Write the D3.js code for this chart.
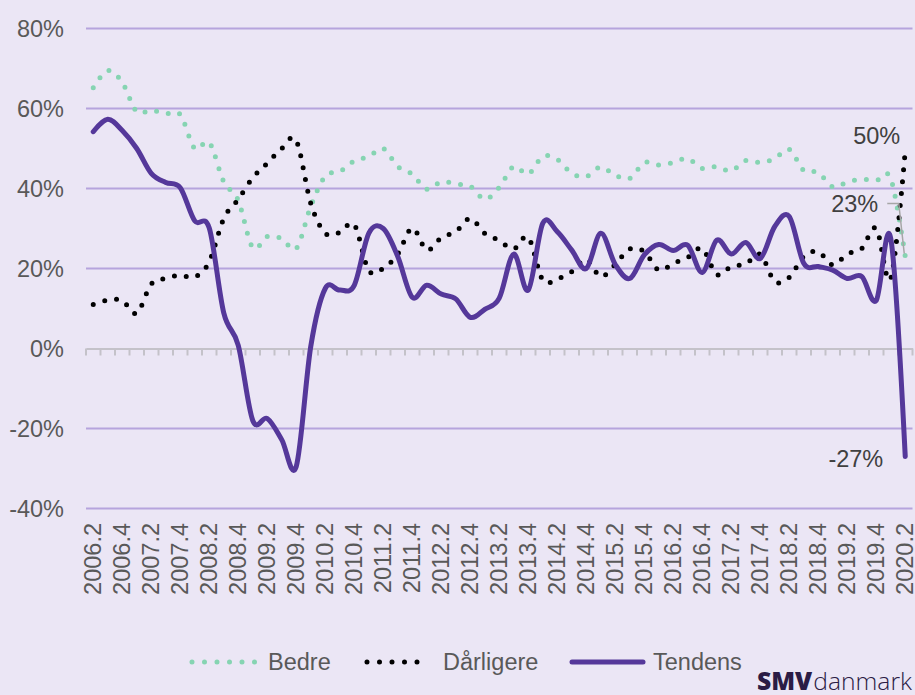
<!DOCTYPE html>
<html>
<head>
<meta charset="utf-8">
<script src="https://cdn.jsdelivr.net/npm/d3@7"></script>
<style>
  body { margin: 0; background: #ebe6f5; }
  svg { display: block; }
  text { font-family: "Liberation Sans", Arial, sans-serif; }
</style>
</head>
<body>
<div id="chart"></div>
<script>
const quarters = [
  "2006.2", "2006.3", "2006.4",
  "2007.1", "2007.2", "2007.3", "2007.4",
  "2008.1", "2008.2", "2008.3", "2008.4",
  "2009.1", "2009.2", "2009.3", "2009.4",
  "2010.1", "2010.2", "2010.3", "2010.4",
  "2011.1", "2011.2", "2011.3", "2011.4",
  "2012.1", "2012.2", "2012.3", "2012.4",
  "2013.1", "2013.2", "2013.3", "2013.4",
  "2014.1", "2014.2", "2014.3", "2014.4",
  "2015.1", "2015.2", "2015.3", "2015.4",
  "2016.1", "2016.2", "2016.3", "2016.4",
  "2017.1", "2017.2", "2017.3", "2017.4",
  "2018.1", "2018.2", "2018.3", "2018.4",
  "2019.1", "2019.2", "2019.3", "2019.4",
  "2020.1", "2020.2"
];

// andel af virksomheder (%)
const bedre = [
  65.2, 69.5, 66.5,
  59.2, 59.6, 58.7, 58.5,
  50.0, 51.5, 41.7, 37.0,
  25.2, 28.0, 27.5, 25.0,
  35.5, 43.1, 44.2, 46.9,
  48.0, 50.0, 45.5, 43.6,
  39.8, 41.7, 41.1, 40.6,
  37.3, 40.3, 45.5, 43.6,
  48.0, 47.3, 43.8, 43.0,
  45.4, 43.3, 42.5, 46.5,
  45.9, 46.5, 47.5, 45.0,
  45.5, 44.4, 47.0, 46.5,
  47.5, 49.8, 44.5, 44.0,
  40.4, 41.6, 42.3, 42.0,
  42.5, 23.0
];

const daarligere = [
  11.0, 12.1, 12.0,
  8.8, 16.1, 17.5, 18.3,
  17.9, 21.7, 32.5, 37.3,
  42.7, 46.3, 50.0, 52.0,
  36.3, 28.8, 29.0, 31.0,
  19.5, 20.0, 23.6, 30.1,
  24.6, 27.7, 29.2, 32.5,
  28.8, 27.0, 24.9, 27.8,
  17.1, 17.4, 19.2, 22.3,
  18.0, 21.0, 24.9, 24.2,
  19.6, 21.3, 22.8, 25.0,
  18.5, 20.5, 21.1, 23.5,
  16.8, 17.8, 23.0, 24.2,
  20.9, 23.6, 25.0, 30.0,
  17.5, 49.5
];

const tendens = [
  54.2, 57.3, 54.5,
  50.0, 43.8, 41.5, 40.2,
  31.9, 30.1, 8.9, 0.8,
  -18.0, -17.5, -22.8, -29.5,
  0.5, 15.0, 14.6, 15.8,
  28.8, 30.0, 23.0, 12.8,
  15.8, 13.6, 12.4, 7.8,
  9.8, 12.6, 23.6, 14.6,
  31.3, 29.2, 24.6, 20.0,
  28.8, 21.0, 17.5, 23.4,
  26.0, 24.5, 25.8, 19.0,
  27.1, 23.6, 26.5, 22.5,
  30.5, 33.0, 21.3, 20.5,
  19.6, 17.5, 18.0, 12.0,
  27.5, -27.0
];

const yTicks = [-40, -20, 0, 20, 40, 60, 80];

const series = [
  { name: "Bedre", values: bedre, color: "#86d4b2", dotted: true },
  { name: "Dårligere", values: daarligere, color: "#000000", dotted: true },
  { name: "Tendens", values: tendens, color: "#55389a", dotted: false }
];

const margin = { top: 28.5, right: 2.5, bottom: 186.5, left: 86 };
const width = 915 - margin.left - margin.right;
const height = 695 - margin.top - margin.bottom;

const x = d3.scaleBand().domain(quarters).range([0, width]).padding(0);
const y = d3.scaleLinear().domain([-40, 80]).range([height, 0]);
const xc = q => x(q) + x.bandwidth() / 2;

const root = d3.select("#chart").append("svg")
  .attr("width", 915)
  .attr("height", 695);

root.append("rect")
  .attr("width", 915)
  .attr("height", 695)
  .attr("fill", "#ebe6f5");

const svg = root.append("g")
  .attr("transform", "translate(" + margin.left + "," + margin.top + ")");

// gridlines (not at 0, the axis sits there)
svg.selectAll(".grid")
  .data(yTicks.filter(t => t !== 0))
  .enter().append("line")
  .attr("class", "grid")
  .attr("x1", 0)
  .attr("x2", width)
  .attr("y1", d => y(d))
  .attr("y2", d => y(d))
  .attr("stroke", "#b6a4dd")
  .attr("stroke-width", 2);

// y labels
svg.selectAll(".ylab")
  .data(yTicks)
  .enter().append("text")
  .attr("class", "ylab")
  .attr("x", -22)
  .attr("y", d => y(d))
  .attr("dy", "0.35em")
  .attr("text-anchor", "end")
  .attr("font-size", 23.5)
  .attr("fill", "#595959")
  .text(d => d + "%");

// zero axis with ticks between categories
const zeroAxis = d3.axisBottom(x)
  .tickValues(quarters)
  .tickSize(0)
  .tickFormat("");
svg.append("g")
  .attr("transform", "translate(0," + y(0) + ")")
  .call(zeroAxis)
  .call(g => g.select(".domain").attr("stroke", "#c4c2c9").attr("stroke-width", 2));

const tickPos = quarters.map(q => x(q)).concat([width]);
svg.selectAll(".qtick")
  .data(tickPos)
  .enter().append("line")
  .attr("class", "qtick")
  .attr("x1", d => d)
  .attr("x2", d => d)
  .attr("y1", y(0))
  .attr("y2", y(0) + 7)
  .attr("stroke", "#c4c2c9")
  .attr("stroke-width", 2);

// category labels, every second quarter
svg.selectAll(".xlab")
  .data(quarters.filter((q, i) => i % 2 === 0))
  .enter().append("text")
  .attr("class", "xlab")
  .attr("transform", d => "translate(" + xc(d) + "," + (height + 14.5) + ") rotate(-90)")
  .attr("dy", "0.35em")
  .attr("text-anchor", "end")
  .attr("font-size", 23.5)
  .attr("fill", "#595959")
  .text(d => d);

// series lines, smoothed like the spreadsheet
const line = d3.line()
  .x((d, i) => xc(quarters[i]))
  .y(d => y(d))
  .curve(d3.curveCardinal.tension(0));

series.forEach(s => {
  const path = svg.append("path")
    .datum(s.values)
    .attr("fill", "none")
    .attr("stroke", s.color)
    .attr("stroke-width", 5)
    .attr("stroke-linecap", "round")
    .attr("stroke-linejoin", "round")
    .attr("d", line);
  if (s.dotted) path.attr("stroke-dasharray", "0 12");
});

// end labels
const last = quarters.length - 1;
const lastX = xc(quarters[last]);

svg.append("text")
  .attr("x", lastX - 5)
  .attr("y", y(daarligere[last]) - 7)
  .attr("text-anchor", "end")
  .attr("font-size", 23.5)
  .attr("fill", "#404040")
  .text(Math.round(daarligere[last]) + "%");

// leader line for Bedre
svg.append("path")
  .attr("d", "M" + (lastX - 18) + "," + (y(bedre[last]) - 53) +
             "H" + (lastX - 6.5) + "L" + (lastX - 1) + "," + (y(bedre[last]) - 3))
  .attr("fill", "none")
  .attr("stroke", "#a6a6a6")
  .attr("stroke-width", 1.5);

svg.append("text")
  .attr("x", lastX - 27)
  .attr("y", y(bedre[last]) - 45)
  .attr("text-anchor", "end")
  .attr("font-size", 23.5)
  .attr("fill", "#404040")
  .text(Math.round(bedre[last]) + "%");

svg.append("text")
  .attr("x", lastX - 22)
  .attr("y", y(tendens[last]) + 10)
  .attr("text-anchor", "end")
  .attr("font-size", 23.5)
  .attr("fill", "#404040")
  .text(Math.round(tendens[last]) + "%");

// legend
const legend = root.append("g").attr("transform", "translate(0,662)");
const legendItems = [
  { s: series[0], x1: 192, x2: 256, tx: 268 },
  { s: series[1], x1: 367, x2: 429, tx: 443 },
  { s: series[2], x1: 572, x2: 643, tx: 653 }
];
legendItems.forEach(it => {
  const l = legend.append("line")
    .attr("x1", it.x1)
    .attr("x2", it.x2)
    .attr("stroke", it.s.color)
    .attr("stroke-width", 5)
    .attr("stroke-linecap", "round");
  if (it.s.dotted) l.attr("stroke-dasharray", "0 12.5");
  legend.append("text")
    .attr("x", it.tx)
    .attr("dy", "0.35em")
    .attr("font-size", 23.5)
    .attr("fill", "#595959")
    .text(it.s.name);
});

// logo: one text, stretched to the width it has in the picture
const logo = root.append("text")
  .attr("font-size", 24)
  .attr("fill", "#2b1c45")
  .style("font-family", "'Open Sans', sans-serif");
logo.append("tspan").attr("font-weight", 800).text("SMV");
logo.append("tspan").attr("font-weight", 300).attr("dx", 1).text("danmark");
const logoW = logo.node().getComputedTextLength();
logo.attr("transform", "translate(757,690) scale(" + (154 / logoW) + ",1)");
</script>
</body>
</html>
